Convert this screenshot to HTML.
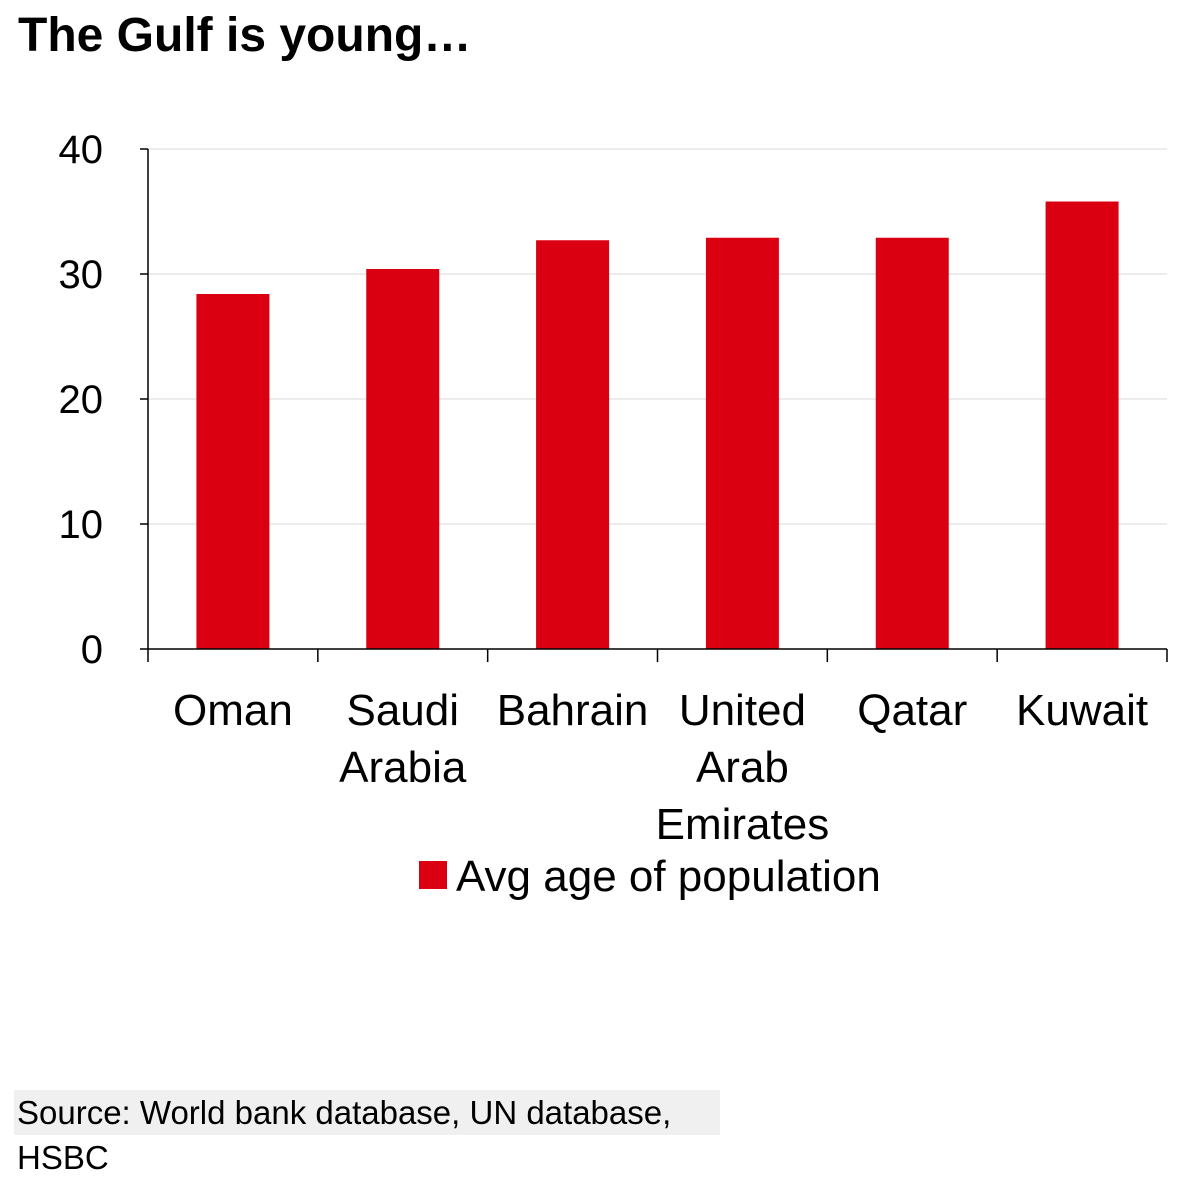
<!DOCTYPE html>
<html><head><meta charset="utf-8"><style>
body{margin:0;width:1192px;height:1155px;background:#fff;overflow:hidden;font-family:"Liberation Sans Narrow","Liberation Sans",sans-serif}
#title{position:absolute;left:18px;top:8px;font:bold 48px "Liberation Sans",sans-serif;color:#000}
#src{position:absolute;left:14px;top:1090px;width:706px;height:45px;background:#f0f0f0;font-size:33px;line-height:45px;padding-left:3px;box-sizing:border-box}
svg{position:absolute;left:0;top:0}
text{font-family:"Liberation Sans Narrow","Liberation Sans",sans-serif}
</style></head><body>
<div id="title">The Gulf is young…</div>
<svg id="chart" width="1192" height="1155"></svg>
<div id="src">Source: World bank database, UN database, HSBC</div>
<script>
const categories=[["Oman"],["Saudi","Arabia"],["Bahrain"],["United","Arab","Emirates"],["Qatar"],["Kuwait"]];
const values=[28.4,30.4,32.7,32.9,32.9,35.8];
const yTicks=[0,10,20,30,40];
const seriesName="Avg age of population";
const svg=document.getElementById('chart');const NS='http://www.w3.org/2000/svg';
const x0=148,x1=1167,yBase=649,yTop=149,yMax=40;
const band=(x1-x0)/categories.length;
const y=v=>yBase-(v/yMax)*(yBase-yTop);
const xc=i=>x0+band*(i+0.5);
function mk(t,a){const e=document.createElementNS(NS,t);for(const k in a)e.setAttribute(k,a[k]);svg.appendChild(e);return e;}
yTicks.forEach(t=>{
  if(t>0){const g=mk('line',{x1:x0,x2:x1,y1:y(t),y2:y(t),stroke:'#d9d9d9','stroke-width':1});
  
  }
  const tk=mk('line',{x1:x0-8,x2:x0,y1:y(t),y2:y(t),stroke:'#000','stroke-width':1.5});
  
  
  const lb=mk('text',{x:103,y:y(t)+14,'text-anchor':'end','font-size':40});
  lb.textContent=t;
  
  
});
values.forEach((v,i)=>{
  const r=mk('rect',{x:xc(i)-36.5,y:y(v),width:73,height:yBase-y(v),fill:'#db0011'});
  
  
  categories[i].forEach((w,j)=>{
    const t=mk('text',{x:xc(i),y:725+j*57,'text-anchor':'middle','font-size':44});
    t.textContent=w;
    
    
  });
});
for(let i=0;i<=categories.length;i++){
  const tk=mk('line',{x1:x0+band*i,x2:x0+band*i,y1:yBase,y2:yBase+13,stroke:'#000','stroke-width':1.5});
  
  
}
const ya=mk('line',{x1:x0,x2:x0,y1:yTop,y2:yBase,stroke:'#000','stroke-width':1.5});


const xa=mk('line',{x1:x0,x2:x1,y1:yBase,y2:yBase,stroke:'#000','stroke-width':1.5});


const sw=mk('rect',{x:419,y:861,width:28,height:28,fill:'#db0011'});


const lt=mk('text',{x:456,y:891,'font-size':44});
lt.textContent=seriesName;


</script>
</body></html>
